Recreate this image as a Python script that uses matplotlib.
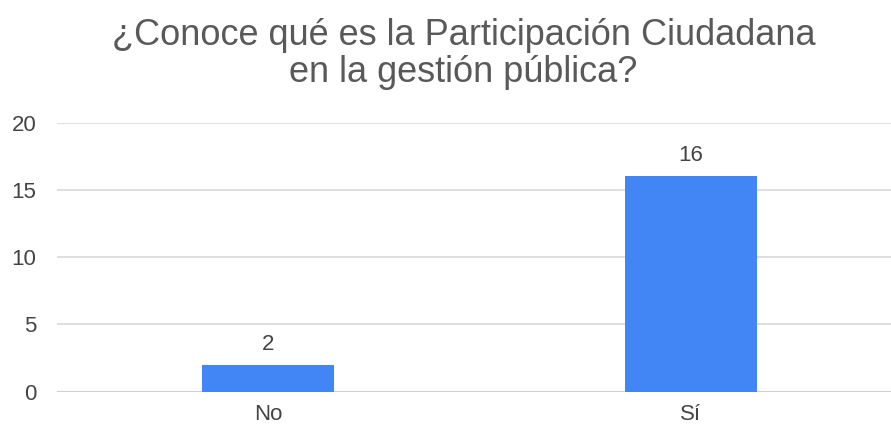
import matplotlib.pyplot as plt

categories = ['No', 'Sí']
counts = [2, 16]
y_ticks = [0, 5, 10, 15, 20]

plt.rcParams['font.family'] = ['Liberation Sans', 'DejaVu Sans']

fig = plt.figure(figsize=(8.91, 4.29), dpi=100)
# axes placed in pixel terms: left 57, right 891, bottom 391.7, top 122.7
ax = fig.add_axes([57 / 891, (429 - 391.7) / 429, (891 - 57) / 891, (391.7 - 122.7) / 429])

x = list(range(len(categories)))
bars = ax.bar(x, counts, width=0.312, color='#4285F4', zorder=3)
for xi, v in zip(x, counts):
    ax.annotate(str(v), (xi, v), xytext=(0, 11), textcoords='offset points',
                ha='center', va='baseline', fontsize=16, color='#444444')

ax.set_xlim(-0.499, 1.473)
ax.set_ylim(0, 20)
ax.set_yticks(y_ticks)
ax.set_xticks(x)
ax.set_xticklabels(categories)
ax.grid(axis='y', color='#d9d9d9', linewidth=1.2, zorder=0)
ax.axhline(0, color='#cccccc', linewidth=1.2, zorder=2)
for s in ax.spines.values():
    s.set_visible(False)
ax.tick_params(length=0, labelsize=16, labelcolor='#444444')
ax.tick_params(axis='y', pad=15)
ax.tick_params(axis='x', pad=8.5)

fig.text(0.52, 1 - 45 / 429, '¿Conoce qué es la Participación Ciudadana',
         ha='center', va='baseline', fontsize=26, color='#595959')
fig.text(0.52, 1 - 82 / 429, 'en la gestión pública?',
         ha='center', va='baseline', fontsize=26, color='#595959')

plt.savefig('out.png', dpi=100)
